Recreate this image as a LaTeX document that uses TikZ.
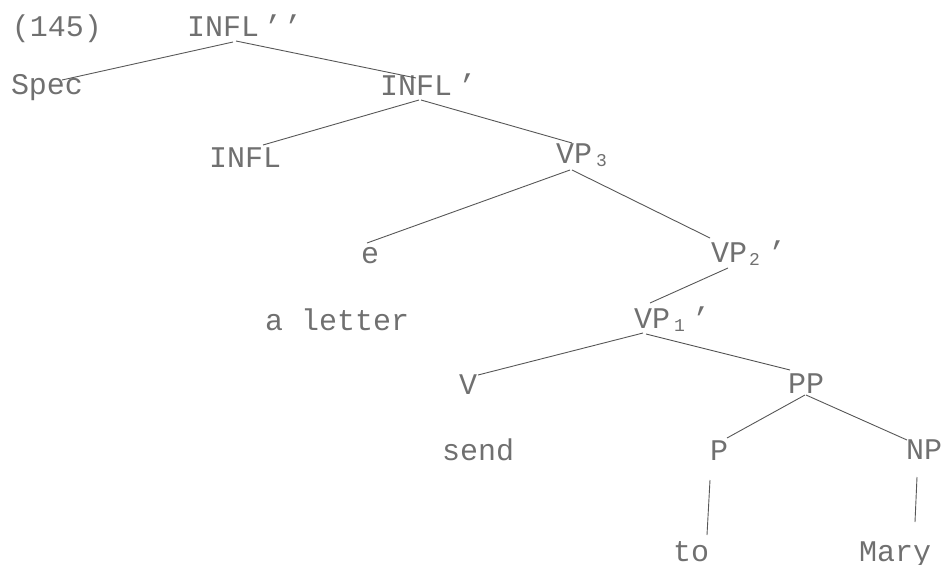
\documentclass[tikz,border=0pt]{standalone}
\usepackage{fontspec}
\newfontfamily\dotfont{Liberation Mono}
% small lowered index for category labels
\newcommand{\lowsub}[1]{\raisebox{-3pt}{\fontsize{18}{18}\selectfont #1}}
\begin{document}
\begin{tikzpicture}[x=1pt,y=-1pt,
  lbl/.style={font=\dotfont\fontsize{30}{30}\selectfont, text=black!56,
              inner sep=0pt, outer sep=0pt, anchor=base west},
  edge/.style={draw=black!66, line width=0.9pt}]
\useasboundingbox (0,0) rectangle (943,565);

% labels, placed by their baseline origin
\node[lbl] (ex)    at (12,36)   {(145)};
\node[lbl] (infla) at (187,36)  {INFL\kern5pt’\kern2pt’};
\node[lbl] (spec)  at (11,94)   {Spec};
\node[lbl] (inflb) at (380,95)  {INFL\kern6pt’};
\node[lbl] (inflc) at (209,167) {INFL};
\node[lbl] (vpiii) at (556,163) {VP\kern4pt\lowsub{3}};
\node[lbl] (e)     at (361,263) {e};
\node[lbl] (vpii)  at (711,262) {VP\kern2pt\lowsub{2}\kern8pt’};
\node[lbl] (alet)  at (265,330) {a letter};
\node[lbl] (vpi)   at (634,328) {VP\kern4pt\lowsub{1}\kern7pt’};
\node[lbl] (v)     at (459,394) {V};
\node[lbl] (pp)    at (788,393) {PP};
\node[lbl] (send)  at (442,460) {send};
\node[lbl] (p)     at (710,460) {P};
\node[lbl] (np)    at (906,459) {NP};
\node[lbl] (to)    at (673,561) {to};
\node[lbl] (mary)  at (859,561) {Mary};

% branches
\draw[edge] ([shift={(46,6)}]infla.base west) -- ([shift={(51,-14)}]spec.base west);
\draw[edge] ([shift={(49,5)}]infla.base west) -- ([shift={(36,-17)}]inflb.base west);
\draw[edge] ([shift={(39,5)}]inflb.base west) -- ([shift={(54,-22)}]inflc.base west);
\draw[edge] ([shift={(41,5)}]inflb.base west) -- ([shift={(16,-20)}]vpiii.base west);
\draw[edge] ([shift={(14,7)}]vpiii.base west) -- ([shift={(6,-20)}]e.base west);
\draw[edge] ([shift={(16,7)}]vpiii.base west) -- ([shift={(-1,-24)}]vpii.base west);
\draw[edge] ([shift={(17,6)}]vpii.base west) -- ([shift={(16,-25)}]vpi.base west);
\draw[edge] ([shift={(9,5)}]vpi.base west) -- ([shift={(19,-19)}]v.base west);
\draw[edge] ([shift={(12,6)}]vpi.base west) -- ([shift={(2,-23)}]pp.base west);
\draw[edge] ([shift={(17,2)}]pp.base west) -- ([shift={(17,-22)}]p.base west);
\draw[edge] ([shift={(18,2)}]pp.base west) -- ([shift={(1,-19)}]np.base west);
\draw[edge] ([shift={(0,20)}]p.base west) -- ([shift={(34,-26)}]to.base west);
\draw[edge] ([shift={(11,18)}]np.base west) -- ([shift={(56,-39)}]mary.base west);
\end{tikzpicture}
\end{document}
